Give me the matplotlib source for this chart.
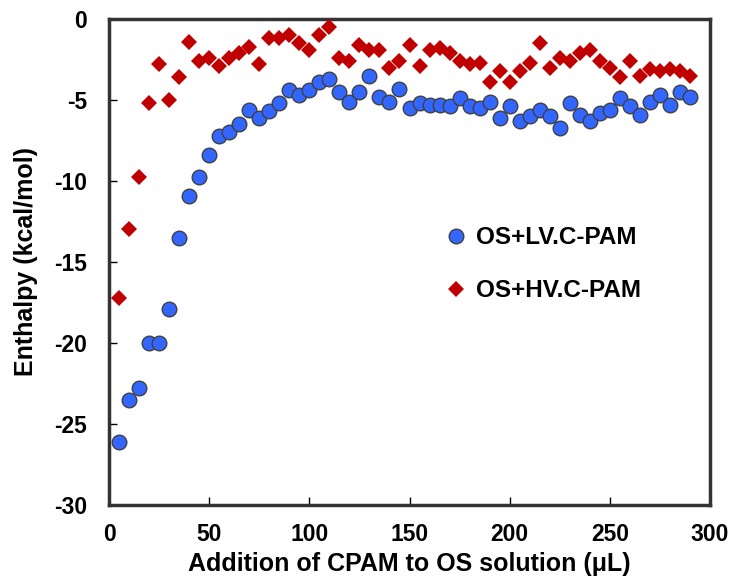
import matplotlib
matplotlib.use("Agg")
import numpy as np
from matplotlib import pyplot as plt

plt.rcParams["font.family"] = ["Liberation Sans", "DejaVu Sans"]
plt.rcParams["font.weight"] = "bold"
plt.rcParams["axes.unicode_minus"] = False

volume = list(range(5, 295, 5))

lv_enthalpy = [
    -26.1, -23.5, -22.8, -20.0, -20.0, -17.9, -13.5, -10.9, -9.75, -8.4,
    -7.2, -7.0, -6.5, -5.6, -6.1, -5.7, -5.2, -4.4, -4.7, -4.4,
    -3.9, -3.7, -4.5, -5.1, -4.5, -3.5, -4.8, -5.1, -4.3, -5.5,
    -5.2, -5.3, -5.3, -5.4, -4.9, -5.4, -5.5, -5.1, -6.1, -5.4,
    -6.3, -6.0, -5.6, -6.0, -6.7, -5.2, -5.9, -6.3, -5.8, -5.6,
    -4.9, -5.4, -5.9, -5.1, -4.7, -5.3, -4.5, -4.8,
]
hv_enthalpy = [
    -17.2, -12.95, -9.75, -5.2, -2.8, -5.0, -3.6, -1.4, -2.6, -2.4,
    -2.9, -2.4, -2.1, -1.7, -2.8, -1.2, -1.2, -1.0, -1.5, -1.9,
    -1.0, -0.5, -2.4, -2.6, -1.6, -1.9, -1.9, -3.0, -2.6, -1.6,
    -2.9, -1.9, -1.8, -2.1, -2.6, -2.8, -2.7, -3.9, -3.2, -3.9,
    -3.2, -2.7, -1.5, -3.0, -2.4, -2.6, -2.1, -1.9, -2.6, -3.0,
    -3.6, -2.6, -3.5, -3.1, -3.2, -3.1, -3.2, -3.5,
]
labels = ["OS+LV.C-PAM", "OS+HV.C-PAM"]

fig = plt.figure(figsize=(7.34, 5.79), dpi=100)
ax = fig.add_axes([109 / 734, 1 - 505 / 579, 601 / 734, 486 / 579])

ax.plot(volume, lv_enthalpy, "o", color="#3366FF", markeredgecolor="#404040",
        markeredgewidth=1.0, markersize=10.5, label=labels[0], zorder=3)
ax.plot(volume, hv_enthalpy, "D", color="#C00000", markeredgewidth=0,
        markersize=8.5, label=labels[1], zorder=3)

ax.set_xlim(0, 300)
ax.set_ylim(-30, 0)
ax.set_xticks(np.arange(0, 301, 50))
ax.set_yticks(np.arange(-30, 1, 5))
ax.tick_params(direction="in", length=6, width=1, labelsize=16.5,
               top=False, right=False)
ax.tick_params(axis="x", pad=13)
ax.tick_params(axis="y", pad=16)
for lbl in ax.get_xticklabels() + ax.get_yticklabels():
    lbl.set_fontweight("bold")
for sp in ax.spines.values():
    sp.set_linewidth(2.5)
    sp.set_color("#333333")

ax.set_xlabel("Addition of CPAM to OS solution (μL)", fontsize=18,
              fontweight="bold", labelpad=4)
ax.set_ylabel("Enthalpy (kcal/mol)", fontsize=18, fontweight="bold", labelpad=11)

ax.legend(loc="upper left", bbox_to_anchor=(0.517, 0.619), frameon=False,
          labelspacing=1.25, handletextpad=0.2, handlelength=1.2,
          prop={"weight": "bold", "size": 17.5})

fig.savefig("out.png", dpi=100)
